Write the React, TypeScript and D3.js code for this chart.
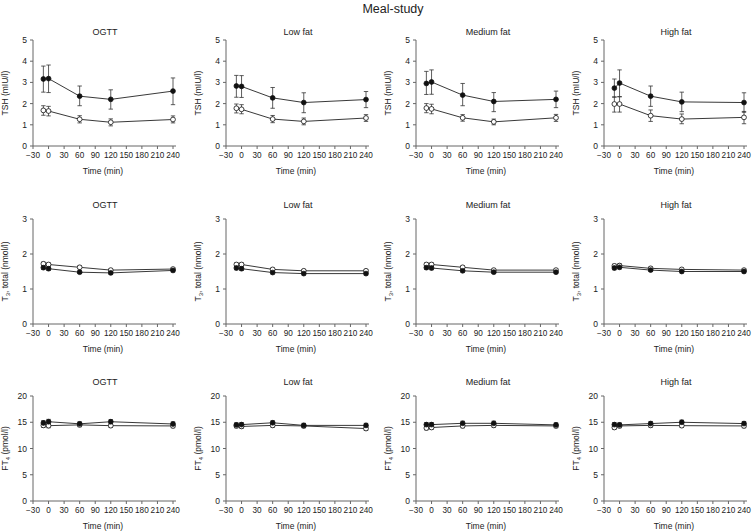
import * as d3 from "d3"

const times = [-10, 0, 60, 120, 240]
const meals = ["OGTT", "Low fat", "Medium fat", "High fat"]
const xTicks = [-30, 0, 30, 60, 90, 120, 150, 180, 210, 240]

// TSH (mIU/l) – filled and open symbols, with lower/upper error bar ends
const tshFilled = [
  [3.16, 3.18, 2.35, 2.2, 2.59],
  [2.83, 2.81, 2.27, 2.05, 2.19],
  [2.95, 3.02, 2.4, 2.1, 2.2],
  [2.73, 2.97, 2.35, 2.08, 2.05],
]
const tshFilledLow = [
  [2.54, 2.52, 1.9, 1.74, 1.95],
  [2.3, 2.29, 1.78, 1.57, 1.81],
  [2.43, 2.44, 1.9, 1.62, 1.81],
  [2.3, 2.33, 1.87, 1.62, 1.59],
]
const tshFilledHigh = [
  [3.77, 3.82, 2.83, 2.65, 3.21],
  [3.33, 3.32, 2.76, 2.51, 2.57],
  [3.52, 3.59, 2.95, 2.52, 2.59],
  [3.16, 3.59, 2.83, 2.54, 2.51],
]
const tshOpen = [
  [1.68, 1.65, 1.26, 1.12, 1.25],
  [1.78, 1.73, 1.27, 1.16, 1.32],
  [1.79, 1.75, 1.33, 1.14, 1.33],
  [1.98, 1.98, 1.43, 1.27, 1.35],
]
const tshOpenLow = [
  [1.45, 1.42, 1.09, 0.95, 1.09],
  [1.56, 1.52, 1.1, 1.0, 1.16],
  [1.57, 1.52, 1.17, 1.0, 1.16],
  [1.6, 1.6, 1.16, 1.05, 1.05],
]
const tshOpenHigh = [
  [1.9, 1.87, 1.43, 1.28, 1.42],
  [1.98, 1.95, 1.44, 1.32, 1.48],
  [2.0, 1.97, 1.48, 1.27, 1.49],
  [2.32, 2.32, 1.7, 1.51, 1.63],
]

// T3 total (nmol/l)
const t3Filled = [
  [1.61, 1.58, 1.48, 1.46, 1.53],
  [1.6, 1.58, 1.47, 1.44, 1.44],
  [1.61, 1.6, 1.52, 1.48, 1.48],
  [1.6, 1.62, 1.54, 1.5, 1.5],
]
const t3Open = [
  [1.72, 1.7, 1.62, 1.54, 1.57],
  [1.7, 1.7, 1.56, 1.52, 1.52],
  [1.7, 1.7, 1.62, 1.54, 1.54],
  [1.66, 1.67, 1.59, 1.56, 1.54],
]
const t3FilledErr = [
  [0.05, 0.05, 0.04, 0.04, 0.04],
  [0.05, 0.05, 0.04, 0.04, 0.04],
  [0.05, 0.05, 0.04, 0.04, 0.04],
  [0.05, 0.05, 0.04, 0.04, 0.04],
]
const t3OpenErr = [
  [0.05, 0.05, 0.04, 0.04, 0.04],
  [0.05, 0.05, 0.04, 0.04, 0.04],
  [0.05, 0.05, 0.04, 0.04, 0.04],
  [0.05, 0.05, 0.04, 0.04, 0.04],
]

// FT4 (pmol/l)
const ft4Filled = [
  [14.86, 15.1, 14.7, 15.1, 14.67],
  [14.5, 14.55, 14.9, 14.4, 14.4],
  [14.55, 14.55, 14.8, 14.8, 14.5],
  [14.55, 14.5, 14.75, 15.0, 14.75],
]
const ft4Open = [
  [14.4, 14.35, 14.5, 14.35, 14.3],
  [14.3, 14.2, 14.4, 14.3, 13.8],
  [13.9, 14.0, 14.3, 14.4, 14.3],
  [14.0, 14.3, 14.4, 14.35, 14.3],
]
const ft4FilledErr = [
  [0.45, 0.45, 0.4, 0.4, 0.4],
  [0.4, 0.4, 0.4, 0.4, 0.4],
  [0.4, 0.4, 0.4, 0.4, 0.4],
  [0.4, 0.4, 0.4, 0.4, 0.4],
]
const ft4OpenErr = [
  [0.4, 0.4, 0.35, 0.35, 0.35],
  [0.35, 0.35, 0.35, 0.35, 0.35],
  [0.35, 0.35, 0.35, 0.35, 0.35],
  [0.35, 0.35, 0.35, 0.35, 0.35],
]

const plus = (m, e) => m.map((r, i) => r.map((v, j) => v + e[i][j]))
const minus = (m, e) => m.map((r, i) => r.map((v, j) => v - e[i][j]))

const rows = [
  {
    label: ["TSH (mIU/l)"],
    yMax: 5,
    yTicks: [0, 1, 2, 3, 4, 5],
    filled: tshFilled,
    filledLo: tshFilledLow,
    filledHi: tshFilledHigh,
    open: tshOpen,
    openLo: tshOpenLow,
    openHi: tshOpenHigh,
  },
  {
    label: ["T", "3", ", total (nmol/l)"],
    yMax: 3,
    yTicks: [0, 1, 2, 3],
    filled: t3Filled,
    filledLo: minus(t3Filled, t3FilledErr),
    filledHi: plus(t3Filled, t3FilledErr),
    open: t3Open,
    openLo: minus(t3Open, t3OpenErr),
    openHi: plus(t3Open, t3OpenErr),
  },
  {
    label: ["FT", "4", " (pmol/l)"],
    yMax: 20,
    yTicks: [0, 5, 10, 15, 20],
    filled: ft4Filled,
    filledLo: minus(ft4Filled, ft4FilledErr),
    filledHi: plus(ft4Filled, ft4FilledErr),
    open: ft4Open,
    openLo: minus(ft4Open, ft4OpenErr),
    openHi: plus(ft4Open, ft4OpenErr),
  },
]

const W = 754
const H = 532
const plotW = 140
const colLeft = [33, 226, 416, 604]
const rowTop = [40, 219, 396]
const rowBottom = [146, 324, 501]
const titleY = [35, 208, 385]
const font = "'Liberation Sans', Arial, sans-serif"
const axisCol = "#666"
const textCol = "#222"

const Panel = ({ row, r, c }) => {
  const left = colLeft[c]
  const top = rowTop[r]
  const bottom = rowBottom[r]
  const x = d3.scaleLinear().domain([-30, 240]).range([left, left + plotW])
  const y = d3.scaleLinear().domain([0, row.yMax]).range([bottom, top])
  const line = d3
    .line()
    .x((d) => x(d[0]))
    .y((d) => y(d[1]))

  const series = [
    { mean: row.open, lo: row.openLo, hi: row.openHi, fill: "#fff" },
    { mean: row.filled, lo: row.filledLo, hi: row.filledHi, fill: "#111" },
  ]

  return (
    <g>
      <text
        x={(left + left + plotW) / 2 + 2}
        y={titleY[r]}
        textAnchor="middle"
        fontSize={9}
        fill={textCol}
      >
        {meals[c]}
      </text>

      {/* y axis */}
      <line x1={left} x2={left} y1={top} y2={bottom} stroke={axisCol} strokeWidth={1} />
      {row.yTicks.map((t) => (
        <g key={t}>
          <line x1={left - 3} x2={left} y1={y(t)} y2={y(t)} stroke={axisCol} />
          <text x={left - 6} y={y(t) + 3} textAnchor="end" fontSize={8.5} fill={textCol}>
            {t}
          </text>
        </g>
      ))}
      <text
        transform={`translate(${left - 25},${(top + bottom) / 2}) rotate(-90)`}
        textAnchor="middle"
        fontSize={8.5}
        fill={textCol}
      >
        {row.label[0]}
        {row.label.length > 1 && (
          <>
            <tspan fontSize={6} dy={2}>
              {row.label[1]}
            </tspan>
            <tspan dy={-2}>{row.label[2]}</tspan>
          </>
        )}
      </text>

      {/* x axis */}
      <line x1={left} x2={left + plotW + 3} y1={bottom} y2={bottom} stroke={axisCol} />
      {xTicks.map((t) => (
        <g key={t}>
          <line x1={x(t)} x2={x(t)} y1={bottom} y2={bottom + 3} stroke={axisCol} />
          <text x={x(t)} y={bottom + 12} textAnchor="middle" fontSize={8.2} fill={textCol}>
            {t < 0 ? `\u2212${-t}` : t}
          </text>
        </g>
      ))}
      <text x={x(105)} y={bottom + 28} textAnchor="middle" fontSize={8.5} fill={textCol}>
        Time (min)
      </text>

      {/* lines */}
      {series.map((s, k) => (
        <path
          key={"l" + k}
          d={line(times.map((t, i) => [t, s.mean[c][i]]))}
          fill="none"
          stroke="#222"
          strokeWidth={0.9}
        />
      ))}
      {/* error bars */}
      {series.map((s, k) =>
        times.map((t, i) => {
          const cx = x(t)
          const y1 = y(s.lo[c][i])
          const y2 = y(s.hi[c][i])
          return (
            <g key={`e${k}-${i}`} stroke="#333" strokeWidth={0.8}>
              <line x1={cx} x2={cx} y1={y1} y2={y2} />
              <line x1={cx - 2.2} x2={cx + 2.2} y1={y1} y2={y1} />
              <line x1={cx - 2.2} x2={cx + 2.2} y1={y2} y2={y2} />
            </g>
          )
        })
      )}
      {/* markers */}
      {series.map((s, k) =>
        times.map((t, i) => (
          <circle
            key={`m${k}-${i}`}
            cx={x(t)}
            cy={y(s.mean[c][i])}
            r={2.4}
            fill={s.fill}
            stroke="#111"
            strokeWidth={0.8}
          />
        ))
      )}
    </g>
  )
}

export default function App() {
  return (
    <svg
      width={W}
      height={H}
      style={{ position: "absolute", left: 0, top: 0, background: "#fff" }}
      fontFamily={font}
    >
      <rect width={W} height={H} fill="#fff" />
      <text x={393} y={13} textAnchor="middle" fontSize={12.5} fill={textCol}>
        Meal-study
      </text>
      {rows.map((row, r) =>
        meals.map((m, c) => <Panel key={`${r}-${c}`} row={row} r={r} c={c} />)
      )}
    </svg>
  )
}
